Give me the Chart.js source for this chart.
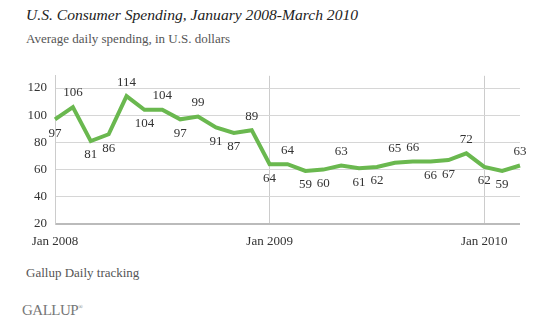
<!DOCTYPE html>
<html>
<head>
<meta charset="utf-8">
<script src="https://cdn.jsdelivr.net/npm/chart.js@4"></script>
<style>
  body { margin: 0; background: #fff; width: 554px; height: 323px; position: relative; overflow: hidden; font-family: 'Liberation Serif', serif; }
  .title { position: absolute; left: 26px; top: 6px; font-size: 15.6px; font-style: italic; color: #222; }
  .sub { position: absolute; left: 26px; top: 31px; font-size: 13px; color: #555; }
  .note { position: absolute; left: 26px; top: 265px; font-size: 13px; color: #555; }
  .logo { position: absolute; left: 22px; top: 302px; font-size: 15px; color: #777; letter-spacing: -0.5px; }
  .logo sup { font-size: 6px; }
  .wrap { position: absolute; left: 0; top: 60px; width: 530px; height: 190px; }
</style>
</head>
<body>
<div class="title">U.S. Consumer Spending, January 2008-March 2010</div>
<div class="sub">Average daily spending, in U.S. dollars</div>
<div class="wrap"><canvas id="spendChart"></canvas></div>
<div class="note">Gallup Daily tracking</div>
<div class="logo">GALLUP<sup>&reg;</sup></div>
<script>
var months = ['Jan 2008', 'Feb 2008', 'Mar 2008', 'Apr 2008', 'May 2008', 'Jun 2008', 'Jul 2008', 'Aug 2008', 'Sep 2008', 'Oct 2008', 'Nov 2008', 'Dec 2008',
  'Jan 2009', 'Feb 2009', 'Mar 2009', 'Apr 2009', 'May 2009', 'Jun 2009', 'Jul 2009', 'Aug 2009', 'Sep 2009', 'Oct 2009', 'Nov 2009', 'Dec 2009',
  'Jan 2010', 'Feb 2010', 'Mar 2010'];
var spending = [97, 106, 81, 86, 114, 104, 104, 97, 99, 91, 87, 89, 64, 64, 59, 60, 63, 61, 62, 65, 66, 66, 67, 72, 62, 59, 63];
var yTicks = [20, 40, 60, 80, 100, 120];
// which side of the line each value label sits on
var labelSide = ['b', 'a', 'b', 'b', 'a', 'b', 'a', 'b', 'a', 'b', 'b', 'a', 'b', 'a', 'b', 'b', 'a', 'b', 'b', 'a', 'a', 'b', 'b', 'a', 'b', 'b', 'a'];

var valueLabels = {
  id: 'valueLabels',
  afterDatasetsDraw: function(chart) {
    var ctx = chart.ctx;
    var meta = chart.getDatasetMeta(0);
    ctx.save();
    ctx.font = '13px "Liberation Serif", serif';
    ctx.fillStyle = '#333';
    ctx.textAlign = 'center';
    ctx.textBaseline = 'middle';
    meta.data.forEach(function(pt, i) {
      var dy = labelSide[i] === 'a' ? -14 : 14;
      ctx.fillText(spending[i], pt.x, pt.y + dy);
    });
    ctx.restore();
  }
};

new Chart(document.getElementById('spendChart'), {
  type: 'line',
  data: {
    labels: months,
    datasets: [{
      data: spending,
      borderColor: '#6ab84f',
      borderWidth: 4,
      pointRadius: 0,
      tension: 0,
      fill: false
    }]
  },
  options: {
    responsive: true,
    maintainAspectRatio: false,
    animation: false,
    layout: { padding: { top: 6, right: 4 } },
    plugins: { legend: { display: false }, tooltip: { enabled: false } },
    scales: {
      x: {
        offset: false,
        afterFit: function(s) { s.height = 26; },
        border: { display: false },
        grid: {
          drawTicks: false,
          color: function(c) { return c.index % 12 === 0 && c.index > 0 ? '#cccccc' : 'rgba(0,0,0,0)'; }
        },
        ticks: {
          autoSkip: false,
          maxRotation: 0,
          padding: 10,
          color: '#333',
          font: { family: 'Liberation Serif', size: 13 },
          callback: function(v, i) { return i % 12 === 0 ? months[i] : ''; }
        }
      },
      y: {
        min: 20,
        max: 129,
        afterFit: function(s) { s.width = 55; },
        afterBuildTicks: function(s) { s.ticks = yTicks.map(function(v) { return { value: v }; }); },
        border: { display: true, color: '#cccccc', width: 1 },
        grid: {
          drawTicks: false,
          color: function(c) { return c.tick && c.tick.value === 20 ? '#bbbbbb' : '#d6d6d6'; },
          lineWidth: function(c) { return c.tick && c.tick.value === 20 ? 2 : 1; }
        },
        ticks: {
          padding: 8,
          color: '#333',
          font: { family: 'Liberation Serif', size: 13 }
        }
      }
    }
  },
  plugins: [valueLabels]
});
</script>
</body>
</html>
